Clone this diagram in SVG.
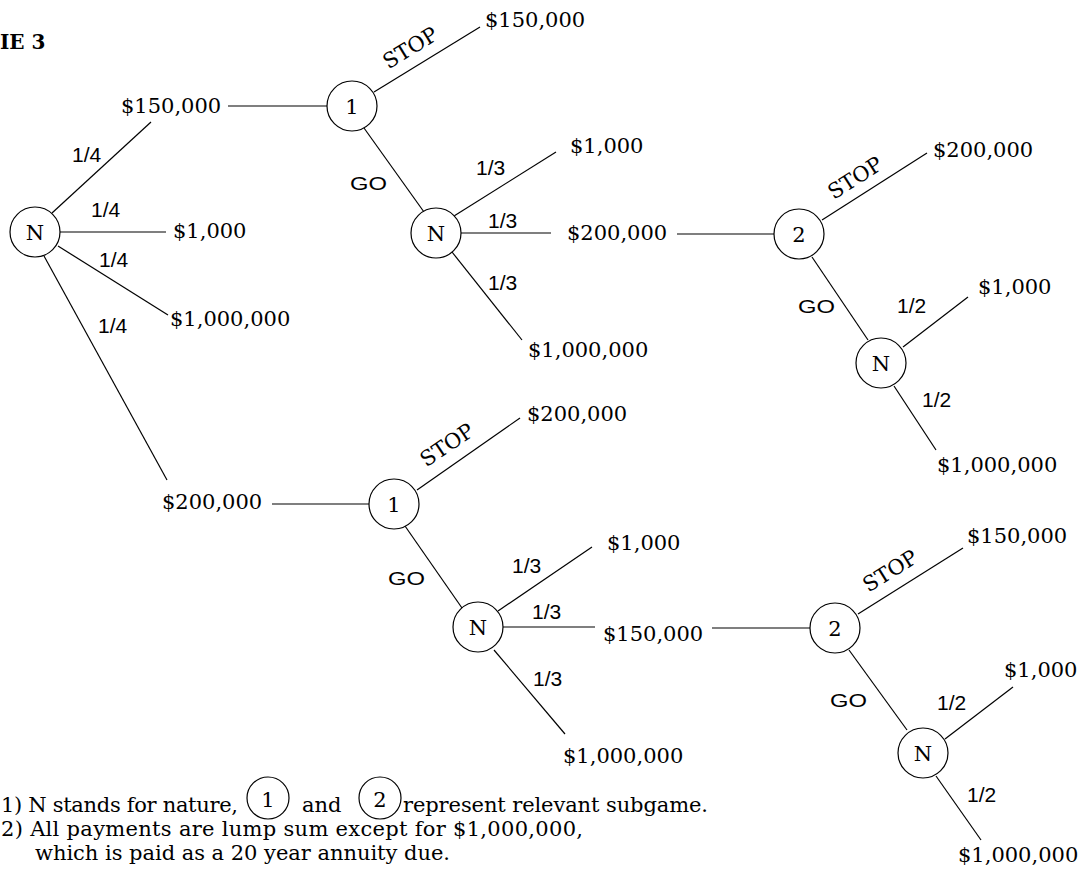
<svg xmlns="http://www.w3.org/2000/svg" width="1092" height="875" viewBox="0 0 1092 875">
<style>
.ln{stroke:#000;stroke-width:1.2;fill:none}
.nd{fill:#fff;stroke:#000;stroke-width:1.2}
.s{font-family:"DejaVu Serif","Liberation Serif",serif;font-size:21px;fill:#000}
.f{font-family:"Liberation Sans",Arial,sans-serif;font-size:21px;fill:#000}
.g{font-family:"Liberation Sans",Arial,sans-serif;font-size:19px;fill:#000}
.c{text-anchor:middle}
.t{font-family:"DejaVu Serif",serif;font-size:20px;font-weight:bold;fill:#000}
</style>
<rect width="1092" height="875" fill="#fff"/>
<text class="t" x="0" y="49">IE 3</text>

<g id="connectors">
  <line class="ln" x1="52" y1="213" x2="151" y2="122"/>
  <line class="ln" x1="60" y1="232" x2="166" y2="232"/>
  <line class="ln" x1="58" y1="246" x2="168" y2="315"/>
  <line class="ln" x1="44" y1="256" x2="167" y2="480"/>
  <line class="ln" x1="228" y1="106" x2="327" y2="106"/>
  <line class="ln" x1="374" y1="92" x2="480" y2="27"/>
  <line class="ln" x1="364" y1="128" x2="424" y2="212"/>
  <line class="ln" x1="454" y1="216" x2="556" y2="152"/>
  <line class="ln" x1="461" y1="233" x2="551" y2="233"/>
  <line class="ln" x1="452" y1="252" x2="522" y2="340"/>
  <line class="ln" x1="677" y1="234" x2="774" y2="234"/>
  <line class="ln" x1="822" y1="220" x2="927" y2="153"/>
  <line class="ln" x1="812" y1="257" x2="868" y2="340"/>
  <line class="ln" x1="903" y1="347" x2="968" y2="297"/>
  <line class="ln" x1="894" y1="386" x2="936" y2="450"/>
  <line class="ln" x1="272" y1="504" x2="369" y2="504"/>
  <line class="ln" x1="417" y1="490" x2="520" y2="418"/>
  <line class="ln" x1="405" y1="526" x2="462" y2="608"/>
  <line class="ln" x1="498" y1="611" x2="592" y2="547"/>
  <line class="ln" x1="503" y1="627" x2="595" y2="627"/>
  <line class="ln" x1="494" y1="650" x2="565" y2="734"/>
  <line class="ln" x1="712" y1="628" x2="810" y2="628"/>
  <line class="ln" x1="858" y1="614" x2="963" y2="548"/>
  <line class="ln" x1="849" y1="650" x2="907" y2="730"/>
  <line class="ln" x1="945" y1="739" x2="1013" y2="687"/>
  <line class="ln" x1="936" y1="776" x2="981" y2="840"/>
</g>

<g id="edge-labels">
  <text class="f" x="72" y="162">1/4</text>
  <text class="f" x="91" y="217">1/4</text>
  <text class="f" x="99" y="267">1/4</text>
  <text class="f" x="98" y="333">1/4</text>
  <text class="s" x="0" y="0" transform="translate(414,54) rotate(-31.5)" text-anchor="middle">STOP</text>
  <text class="g" x="0" y="0" transform="translate(350,190) scale(1.25,1)">GO</text>
  <text class="f" x="476" y="175">1/3</text>
  <text class="f" x="488" y="228">1/3</text>
  <text class="f" x="488" y="290">1/3</text>
  <text class="s" x="0" y="0" transform="translate(859,184) rotate(-32.5)" text-anchor="middle">STOP</text>
  <text class="g" x="0" y="0" transform="translate(798,313) scale(1.25,1)">GO</text>
  <text class="f" x="897" y="313">1/2</text>
  <text class="f" x="922" y="407">1/2</text>
  <text class="s" x="0" y="0" transform="translate(451,451) rotate(-33.8)" text-anchor="middle">STOP</text>
  <text class="g" x="0" y="0" transform="translate(388,585) scale(1.25,1)">GO</text>
  <text class="f" x="512" y="573">1/3</text>
  <text class="f" x="532" y="619">1/3</text>
  <text class="f" x="533" y="686">1/3</text>
  <text class="s" x="0" y="0" transform="translate(894,577) rotate(-31.8)" text-anchor="middle">STOP</text>
  <text class="g" x="0" y="0" transform="translate(830,707) scale(1.25,1)">GO</text>
  <text class="f" x="937" y="710">1/2</text>
  <text class="f" x="967" y="802">1/2</text>
</g>

<g id="payoffs">
  <text class="s" x="121" y="113">$150,000</text>
  <text class="s" x="173" y="238">$1,000</text>
  <text class="s" x="170" y="326">$1,000,000</text>
  <text class="s" x="485" y="27">$150,000</text>
  <text class="s" x="570" y="153">$1,000</text>
  <text class="s" x="567" y="240">$200,000</text>
  <text class="s" x="528" y="357">$1,000,000</text>
  <text class="s" x="933" y="157">$200,000</text>
  <text class="s" x="978" y="294">$1,000</text>
  <text class="s" x="937" y="472">$1,000,000</text>
  <text class="s" x="162" y="509">$200,000</text>
  <text class="s" x="527" y="421">$200,000</text>
  <text class="s" x="607" y="550">$1,000</text>
  <text class="s" x="603" y="641">$150,000</text>
  <text class="s" x="563" y="763">$1,000,000</text>
  <text class="s" x="967" y="543">$150,000</text>
  <text class="s" x="1004" y="677">$1,000</text>
  <text class="s" x="958" y="862">$1,000,000</text>
</g>

<g id="node-root-N"><circle class="nd" cx="35" cy="232" r="25"/><text class="s c" x="35" y="240">N</text></g>
<g id="node-top-1"><circle class="nd" cx="352" cy="106" r="25"/><text class="s c" x="352" y="114">1</text></g>
<g id="node-top-N"><circle class="nd" cx="436" cy="233" r="25"/><text class="s c" x="436" y="241">N</text></g>
<g id="node-top-2"><circle class="nd" cx="799" cy="234" r="25"/><text class="s c" x="799" y="242">2</text></g>
<g id="node-top-N2"><circle class="nd" cx="881" cy="363" r="25"/><text class="s c" x="881" y="371">N</text></g>
<g id="node-bot-1"><circle class="nd" cx="394" cy="504" r="25"/><text class="s c" x="394" y="512">1</text></g>
<g id="node-bot-N"><circle class="nd" cx="478" cy="627" r="25"/><text class="s c" x="478" y="635">N</text></g>
<g id="node-bot-2"><circle class="nd" cx="835" cy="628" r="25"/><text class="s c" x="835" y="636">2</text></g>
<g id="node-bot-N2"><circle class="nd" cx="923" cy="753" r="25"/><text class="s c" x="923" y="761">N</text></g>

<g id="notes">
  <text class="s" x="1" y="812" textLength="237" lengthAdjust="spacing">1) N stands for nature,</text>
  <circle class="nd" cx="268" cy="798" r="21"/>
  <text class="s c" x="268" y="807">1</text>
  <text class="s" x="302" y="812">and</text>
  <circle class="nd" cx="380" cy="798" r="21"/>
  <text class="s c" x="380" y="807">2</text>
  <text class="s" x="403" y="812" textLength="305" lengthAdjust="spacing">represent relevant subgame.</text>
  <text class="s" x="1" y="836" textLength="582" lengthAdjust="spacing">2) All payments are lump sum except for $1,000,000,</text>
  <text class="s" x="35" y="860" textLength="415" lengthAdjust="spacing">which is paid as a 20 year annuity due.</text>
</g>
</svg>
